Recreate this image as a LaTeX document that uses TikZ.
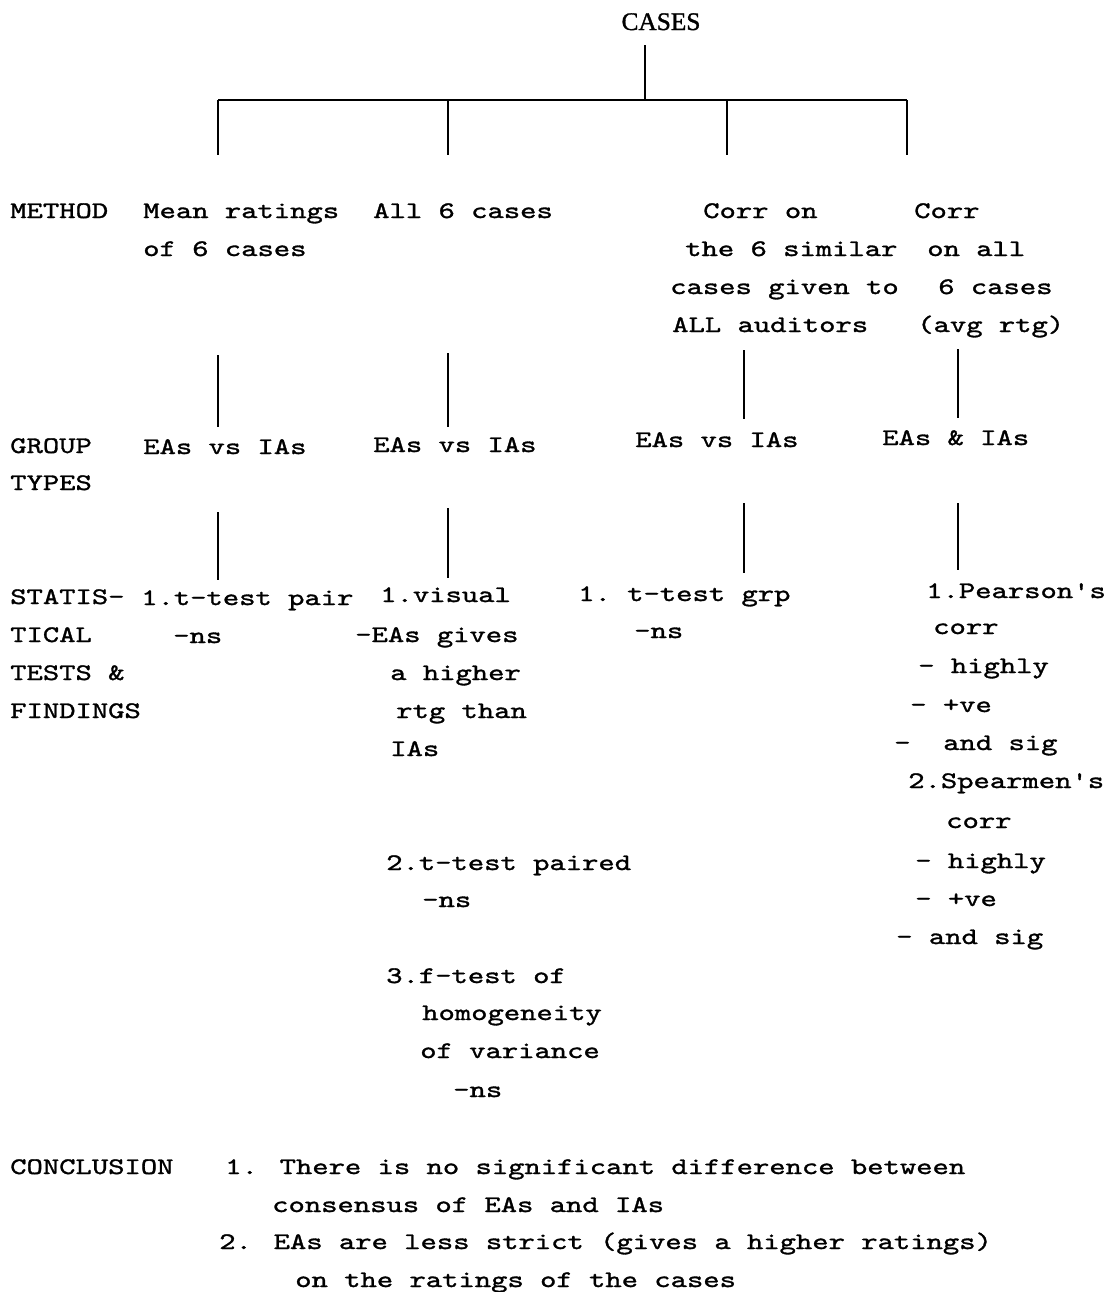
\documentclass[tikz,border=0pt]{standalone}
\usepackage{fontspec}
% typewriter face, widened to a printer's pitch
\newfontfamily\typer[FakeStretch=1.31,FakeBold=1.3]{lmmono10-regular.otf}
\newfontfamily\headserif[FakeBold=1.2]{Liberation Serif}
\begin{document}
\begin{tikzpicture}[x=0.75pt,y=-0.75pt,
  txt/.style={anchor=base west, inner sep=0pt, font=\typer\fontsize{17.8}{20}\selectfont},
  head/.style={anchor=base, inner sep=0pt, font=\headserif\fontsize{19}{20}\selectfont},
  tick/.style={line width=1pt},
  bus/.style={line width=1.8pt}]
\useasboundingbox (0,0) rectangle (1109,1292);

% ---- root and branching bus
\node[head] (cases) at (661,30) {CASES};
\coordinate (stemtop) at (645,45);
\coordinate (hub) at (645,100);
\coordinate (busL) at (218,100);
\coordinate (busB) at (448,100);
\coordinate (busC) at (727,100);
\coordinate (busR) at (907,100);
\coordinate (dropA) at (218,155);
\coordinate (dropB) at (448,155);
\coordinate (dropC) at (727,155);
\coordinate (dropD) at (907,155);
\draw[tick] (stemtop) -- (hub);
\draw[bus] (busL) -- (busR);
\draw[tick] (busL) -- (dropA);
\draw[tick] (busB) -- (dropB);
\draw[tick] (busC) -- (dropC);
\draw[tick] (busR) -- (dropD);

% ---- row labels
\node[txt] (lmethod) at (10,218) {METHOD};
\node[txt] (lgroup1) at (10,453) {GROUP};
\node[txt] (lgroup2) at (10,490) {TYPES};
\node[txt] (lstat1) at (10,604) {STATIS-};
\node[txt] (lstat2) at (10,642) {TICAL};
\node[txt] (lstat3) at (10,680) {TESTS \&};
\node[txt] (lstat4) at (10,718) {FINDINGS};
\node[txt] (lconc) at (10,1174) {CONCLUSION};

% ---- method row
\node[txt] (ma1) at (143,218) {Mean ratings};
\node[txt] (ma2) at (143,256) {of 6 cases};
\node[txt] (mb1) at (373,218) {All 6 cases};
\node[txt] (mc1) at (703,218) {Corr on};
\node[txt] (mc2) at (685,256) {the 6 similar};
\node[txt] (mc3) at (670,294) {cases given to};
\node[txt] (mc4) at (672,332) {ALL auditors};
\node[txt] (md1) at (914,218) {Corr};
\node[txt] (md2) at (927,256) {on all};
\node[txt] (md3) at (938,294) {6 cases};
\node[txt] (md4) at (917,332) {(avg rtg)};

% ---- method -> group connectors
\coordinate (ga1) at (218,355); \coordinate (ga2) at (218,427);
\coordinate (gb1) at (448,353); \coordinate (gb2) at (448,427);
\coordinate (gc1) at (744,350); \coordinate (gc2) at (744,419);
\coordinate (gd1) at (958,349); \coordinate (gd2) at (958,418);
\draw[tick] (ga1) -- (ga2);
\draw[tick] (gb1) -- (gb2);
\draw[tick] (gc1) -- (gc2);
\draw[tick] (gd1) -- (gd2);

% ---- group row
\node[txt] (ga) at (143,454) {EAs vs IAs};
\node[txt] (gb) at (373,452) {EAs vs IAs};
\node[txt] (gc) at (635,447) {EAs vs IAs};
\node[txt] (gd) at (882,445) {EAs \& IAs};

% ---- group -> tests connectors
\coordinate (ta1) at (218,512); \coordinate (ta2) at (218,580);
\coordinate (tb1) at (448,508); \coordinate (tb2) at (448,578);
\coordinate (tc1) at (744,503); \coordinate (tc2) at (744,573);
\coordinate (td1) at (958,503); \coordinate (td2) at (958,570);
\draw[tick] (ta1) -- (ta2);
\draw[tick] (tb1) -- (tb2);
\draw[tick] (tc1) -- (tc2);
\draw[tick] (td1) -- (td2);

% ---- tests and findings
\node[txt] (ta) at (141,605) {1.t-test pair};
\node[txt] (tans) at (173,643) {-ns};

\node[txt] (tb1t) at (380,602) {1.visual};
\node[txt] (tb1a) at (355,642) {-EAs gives};
\node[txt] (tb1b) at (390,680) {a higher};
\node[txt] (tb1c) at (396,718) {rtg than};
\node[txt] (tb1d) at (390,756) {IAs};
\node[txt] (tb2t) at (386,870) {2.t-test paired};
\node[txt] (tb2a) at (422,907) {-ns};
\node[txt] (tb3t) at (386,983) {3.f-test of};
\node[txt] (tb3a) at (422,1020) {homogeneity};
\node[txt] (tb3b) at (420,1058) {of variance};
\node[txt] (tb3c) at (453,1097) {-ns};

\node[txt] (tc) at (578,601) {1.~t-test grp};
\node[txt] (tcns) at (634,638) {-ns};

\node[txt] (td1t) at (926,598) {1.Pearson's};
\node[txt] (td1a) at (933,634) {corr};
\node[txt] (td1b) at (918,673) {-~highly};
\node[txt] (td1c) at (910,712) {-~+ve};
\node[txt] (td1d) at (894,750) {-~~and sig};
\node[txt] (td2t) at (908,788) {2.Spearmen's};
\node[txt] (td2a) at (946,828) {corr};
\node[txt] (td2b) at (915,868) {-~highly};
\node[txt] (td2c) at (915,906) {-~+ve};
\node[txt] (td2d) at (896,944) {-~and sig};

% ---- conclusion
\node[txt] (c1) at (225,1174) {1. There is no significant difference between};
\node[txt] (c1b) at (272,1212) {consensus of EAs and IAs};
\node[txt] (c2) at (219,1249) {2. EAs are less strict (gives a higher ratings)};
\node[txt] (c2b) at (295,1287) {on the ratings of the cases};
\end{tikzpicture}
\end{document}
